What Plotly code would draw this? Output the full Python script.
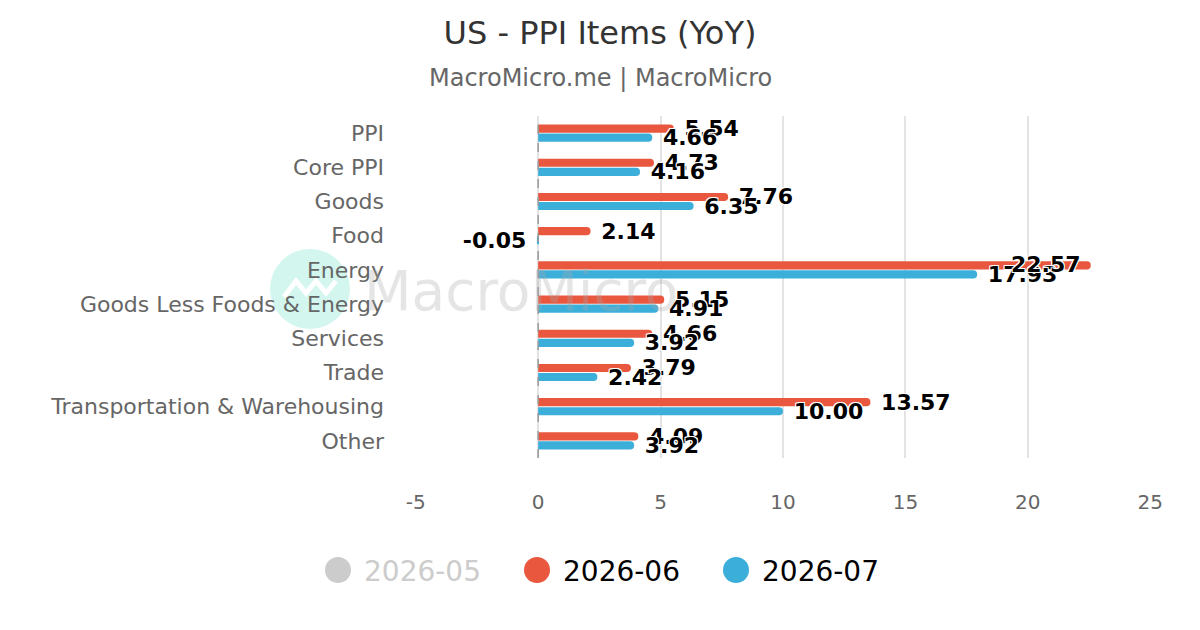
import plotly.graph_objects as go

# 数据
categories = ["PPI", "Core PPI", "Goods", "Food", "Energy",
              "Goods Less Foods & Energy", "Services", "Trade",
              "Transportation & Warehousing", "Other"]
jun_values = [5.54, 4.73, 7.76, 2.14, 22.57, 5.15, 4.66, 3.79, 13.57, 4.09]
jul_values = [4.66, 4.16, 6.35, -0.05, 17.93, 4.91, 3.92, 2.42, 10.00, 3.92]
series_names = ["2026-05", "2026-06", "2026-07"]
x_ticks = [-5, 0, 5, 10, 15, 20, 25]

RED = "#e9573f"
BLUE = "#3bafda"
GREY = "#cccccc"
FONT = "DejaVu Sans"

# 绘图区在页面里的像素位置（页面 body 自带 8px 外边距）
PX_L, PX_R, PX_T, PX_B = 415, 1151, 116, 458
def px(x):
    return (x - PX_L) / (PX_R - PX_L)
def py(y):
    return (PX_B - y) / (PX_B - PX_T)

label_font = dict(family=FONT, size=22, color="black", weight="bold",
                  shadow="-1px -1px 0 #fff, 1px -1px 0 #fff, -1px 1px 0 #fff, 1px 1px 0 #fff")

fig = go.Figure()

for vals, color, yshift in [(jun_values, RED, 5), (jul_values, BLUE, -5)]:
    # 太长的标签（会超出绘图区）改成贴在柱子末端内侧的注释
    templates = []
    for cat, v in zip(categories, vals):
        if v > 20:
            templates.append("")
            fig.add_annotation(x=v, y=cat, xref="x", yref="y", text=f"{v:.2f}",
                               showarrow=False, xanchor="right", yanchor="middle",
                               xshift=-8, yshift=yshift, font=label_font)
        elif v >= 0:
            templates.append(" %{x:.2f}")
        else:
            templates.append("%{x:.2f} ")
    fig.add_trace(go.Bar(
        y=categories, x=vals, orientation="h",
        marker=dict(color=color, cornerradius=4, line=dict(width=0)),
        texttemplate=templates, textposition="outside",
        textfont=label_font, constraintext="none", cliponaxis=False,
        showlegend=False, hoverinfo="skip",
    ))

# 零线（虚线）
fig.add_shape(type="line", xref="x", yref="paper", x0=0, x1=0, y0=0, y1=1,
              line=dict(color="#999999", width=1.5, dash="dash"), layer="above")

# 水印
fig.add_shape(type="circle", xref="paper", yref="paper",
              xsizemode="pixel", ysizemode="pixel",
              xanchor=px(310), yanchor=py(289), x0=-40, x1=40, y0=-40, y1=40,
              fillcolor="#d3f6ef", line=dict(width=0), layer="below")
fig.add_shape(type="path", xref="paper", yref="paper",
              xsizemode="pixel", ysizemode="pixel",
              xanchor=px(310), yanchor=py(289),
              path="M -26,-8 L -14,8 L -4,-4 L 6,8 L 16,-4 L 26,8",
              line=dict(color="white", width=5), layer="below")
fig.add_annotation(text="MacroMicro", xref="paper", yref="paper",
                   x=px(362), y=py(291), xanchor="left", yanchor="middle",
                   showarrow=False,
                   font=dict(family=FONT, size=55,
                             color="rgba(170,170,170,0.3)"))

# 副标题
fig.add_annotation(text="MacroMicro.me | MacroMicro", xref="paper", yref="paper",
                   x=px(600), xanchor="center", y=py(78), yanchor="middle",
                   showarrow=False, font=dict(family=FONT, size=24, color="#666666"))

# 图例（圆点 + 文字）
legend_colors = [GREY, RED, BLUE]
legend_text_colors = ["#cccccc", "black", "black"]
legend_dot_x = [338, 537, 736]
for name, c, tc, dx in zip(series_names, legend_colors, legend_text_colors, legend_dot_x):
    fig.add_shape(type="circle", xref="paper", yref="paper",
                  xsizemode="pixel", ysizemode="pixel",
                  xanchor=px(dx), yanchor=py(570), x0=-13, x1=13, y0=-13, y1=13,
                  fillcolor=c, line=dict(width=0))
    fig.add_annotation(text=name, xref="paper", yref="paper",
                       x=px(dx + 24), y=py(571), xanchor="left", yanchor="middle",
                       showarrow=False, font=dict(family=FONT, size=28, color=tc))

fig.update_layout(
    width=1200, height=630,
    paper_bgcolor="white", plot_bgcolor="white",
    margin=dict(l=PX_L - 8, r=1200 - PX_R + 8, t=PX_T - 8, b=630 - PX_B + 8),
    title=dict(text="US - PPI Items (YoY)", x=592 / 1200, xanchor="center",
               y=1 - 25 / 630, yanchor="middle", yref="container",
               font=dict(family=FONT, size=32, color="#333333")),
    barmode="group", bargap=0.47, bargroupgap=0.1,
    xaxis=dict(range=[-5.03, 25.03], tickvals=x_ticks, ticktext=[str(v) for v in x_ticks],
               showgrid=True, gridcolor="#e3e3e3", gridwidth=1.5, zeroline=False,
               showline=False, ticks="", ticklabelstandoff=30,
               tickfont=dict(family=FONT, size=20, color="#666666")),
    yaxis=dict(autorange="reversed", showgrid=False, zeroline=False,
               showline=False, ticks="", ticklabelstandoff=30,
               tickfont=dict(family=FONT, size=22, color="#666666")),
    showlegend=False,
    hovermode=False,
)

fig.write_html("out.html")
